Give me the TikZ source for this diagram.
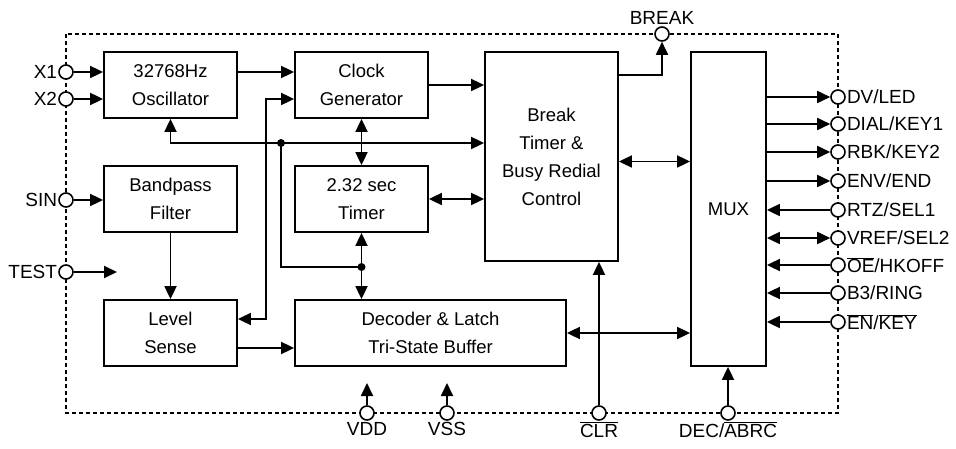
\documentclass[tikz,border=0pt]{standalone}
\usepackage{fontspec}
\setmainfont{Liberation Sans}
\usetikzlibrary{arrows.meta, calc}
\newcommand{\barsig}[1]{$\overline{\mbox{#1}}$}
\tikzset{
  blockbox/.style={draw, line width=1.8pt, minimum width=133pt, minimum height=66pt,
                   align=center, inner sep=0pt, font=\fontsize{18.5}{28}\selectfont},
  pinnode/.style={draw, circle, fill=white, line width=1.6pt, minimum size=14pt, inner sep=0pt},
  sig/.style={line width=1.8pt, -{Triangle[length=13pt,width=12pt]}},
  sigboth/.style={line width=1.8pt, {Triangle[length=13pt,width=12pt]}-{Triangle[length=13pt,width=12pt]}},
  junc/.style={circle, fill, inner sep=0pt, minimum size=8pt}
}

\begin{document}
\begin{tikzpicture}[x=1pt, y=-1pt, every label/.style={font=\fontsize{19}{21}\selectfont, inner sep=1pt}]
    \useasboundingbox (0,0) rectangle (956,449);
    % chip outline
    \draw[dash pattern=on 4pt off 3pt, line width=1.3pt] (66,34) rectangle (838,413);

    % blocks
    \node[blockbox] (osc) at (170.5,85) {32768Hz\\Oscillator};
    \node[blockbox] (clk) at (361.5,85) {Clock\\Generator};
    \node[blockbox] (bpf) at (170.5,199) {Bandpass\\Filter};
    \node[blockbox] (tmr) at (361.5,199) {2.32 sec\\Timer};
    \node[blockbox] (lvl) at (170.5,333) {Level\\Sense};
    \node[blockbox, minimum width=271pt] (dec) at (430.5,333) {Decoder \& Latch\\Tri-State Buffer};
    \node[blockbox, minimum height=209pt] (brk) at (551.5,156.5) {Break\\Timer \&\\Busy Redial\\Control};
    \node[blockbox, minimum width=75pt, minimum height=314pt] (mux) at (728.5,209) {MUX};

    % pins
    \node[pinnode, label=left:X1] (x1) at (66,72) {};
    \node[pinnode, label=left:X2] (x2) at (66,99) {};
    \node[pinnode, label=left:SIN] (sin) at (66,200) {};
    \node[pinnode, label=left:TEST] (test) at (66,272) {};
    \node[pinnode, label=above:BREAK] (bpin) at (662,34) {};
    \node[pinnode, label=right:DV/LED] (dv) at (838,97) {};
    \node[pinnode, label=right:DIAL/KEY1] (dial) at (838,124) {};
    \node[pinnode, label=right:RBK/KEY2] (rbk) at (838,152) {};
    \node[pinnode, label=right:ENV/END] (env) at (838,181) {};
    \node[pinnode, label=right:RTZ/SEL1] (rtz) at (838,210) {};
    \node[pinnode, label=right:VREF/SEL2] (vref) at (838,238) {};
    \node[pinnode, label=right:\barsig{OE}/HKOFF] (oe) at (838,265) {};
    \node[pinnode, label=right:B3/RING] (ring) at (838,293) {};
    \node[pinnode, label=right:\barsig{EN}/\barsig{KEY}] (enkey) at (838,322) {};
    \node[pinnode, label=below:VDD] (vdd) at (367,413) {};
    \node[pinnode, label=below:VSS] (vss) at (447,413) {};
    \node[pinnode, label=below:\barsig{CLR}] (clr) at (599,413) {};
    \node[pinnode, label=below:DEC/\barsig{ABRC}] (abrc) at (728,413) {};

    % free ends and bends
    \coordinate (testtip) at (117,272);
    \coordinate (vddtip) at (367,383);
    \coordinate (vsstip) at (447,383);
    \coordinate (j1) at (281,143);
    \coordinate (j2) at (361.5,267);
    \coordinate (k1) at (266,99);
    \coordinate (k2) at (266,319);
    \coordinate (lvlout) at ([yshift=-15pt]lvl.east);
    \coordinate (brkmux) at ([yshift=-5pt]brk.east);

    % inputs
    \draw[sig] (x1) -- (x1 -| osc.west);
    \draw[sig] (x2) -- (x2 -| osc.west);
    \draw[sig] (sin) -- (sin -| bpf.west);
    \draw[sig] (test) -- (testtip);
    \draw[sig] (vdd) -- (vddtip);
    \draw[sig] (vss) -- (vsstip);
    \draw[sig] (clr) -- (clr |- brk.south);
    \draw[sig] (abrc) -- (abrc |- mux.south);

    % internal signals
    \draw[sig] (osc.east |- x1) -- (clk.west |- x1);
    \draw[sig] (clk.east) -- (clk.east -| brk.west);
    \draw[sigboth] (osc.south) |- (j1) -- (j1 -| brk.west);
    \draw[line width=1.8pt] (j1) |- (j2);
    \draw[sig] (j2) -- (tmr.south);
    \draw[sig] (j2) -- (j2 |- dec.north);
    \node[junc] (dot1) at (j1) {};
    \node[junc] (dot2) at (j2) {};
    \draw[sigboth] (clk.south) -- (tmr.north);
    \draw[sigboth] (k1 -| clk.west) -- (k1) -- (k2) -- (k2 -| lvl.east);
    \draw[sigboth] (tmr.east) -- (tmr.east -| brk.west);
    \draw[sig] (bpf.south) -- (lvl.north);
    \draw[sig] (lvlout) -- (lvlout -| dec.west);
    \draw[sigboth] (brkmux) -- (brkmux -| mux.west);
    \draw[sigboth] (dec.east) -- (dec.east -| mux.west);
    \draw[sig] ([yshift=-24pt]brk.north east) -| (bpin);

    % outputs
    \draw[sig] (mux.east |- dv) -- (dv);
    \draw[sig] (mux.east |- dial) -- (dial);
    \draw[sig] (mux.east |- rbk) -- (rbk);
    \draw[sig] (mux.east |- env) -- (env);
    \draw[sig] (rtz) -- (rtz -| mux.east);
    \draw[sigboth] (mux.east |- vref) -- (vref);
    \draw[sig] (oe) -- (oe -| mux.east);
    \draw[sig] (ring) -- (ring -| mux.east);
    \draw[sig] (enkey) -- (enkey -| mux.east);
\end{tikzpicture}
\end{document}
